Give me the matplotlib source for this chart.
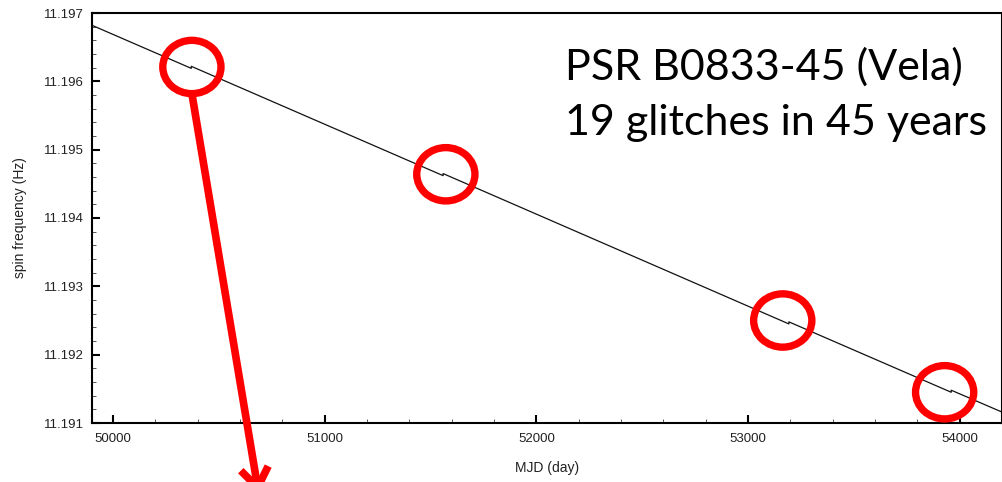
import matplotlib
matplotlib.use("Agg")
import matplotlib.pyplot as plt
from matplotlib.patches import Ellipse
from matplotlib.ticker import MultipleLocator, FormatStrFormatter

# Vela spin frequency vs. MJD, with small glitch steps
mjd = [49900, 50369, 50369, 51559, 51559, 53193, 53193, 53960, 53960, 54200]
freq = [11.19682, 11.19619, 11.19622, 11.19462, 11.19465,
        11.19245, 11.19248, 11.19145, 11.19148, 11.19116]

# highlighted glitches
circle_mjd = [50372, 51572, 53164, 53929]
circle_freq = [11.19621, 11.19464, 11.19250, 11.19145]

x_ticks = [50000, 51000, 52000, 53000, 54000]
y_ticks = [11.191, 11.192, 11.193, 11.194, 11.195, 11.196, 11.197]

title_lines = ["PSR B0833-45 (Vela)", "19 glitches in 45 years"]

plt.rcParams['font.family'] = ['Liberation Sans', 'DejaVu Sans']

fig = plt.figure(figsize=(10.03, 4.82), dpi=100)
ax = fig.add_axes([92 / 1003, 1 - 423 / 482, 910 / 1003, 410 / 482])

ax.plot(mjd, freq, color='#111111', lw=0.9)

ax.set_xlim(49900, 54200)
ax.set_ylim(11.191, 11.197)
ax.set_xticks(x_ticks)
ax.set_yticks(y_ticks)
ax.xaxis.set_minor_locator(MultipleLocator(200))
ax.yaxis.set_minor_locator(MultipleLocator(0.0002))
ax.yaxis.set_major_formatter(FormatStrFormatter('%.3f'))

ax.tick_params(which='both', direction='in', top=False, right=False,
               labelsize=9.5, labelcolor='#222222')
ax.tick_params(which='major', length=6, width=1.5)
ax.tick_params(which='minor', length=3, width=0.7, color='#555555')
ax.tick_params(axis='y', which='major', pad=6)
ax.tick_params(axis='x', which='major', pad=7)
for s in ax.spines.values():
    s.set_linewidth(1.5)

ax.set_xlabel('MJD (day)', fontsize=10, color='#222222', labelpad=12)
ax.set_ylabel('spin frequency (Hz)', fontsize=10, color='#222222', labelpad=12)

# red circles around the glitches
cw, ch = 275, 0.00078
for cx, cy in zip(circle_mjd, circle_freq):
    ax.add_patch(Ellipse((cx, cy), cw, ch, fill=False, edgecolor='#ff0000',
                         lw=5.3, clip_on=False, zorder=5))

# arrow leaving the first circle
ax.annotate('', xy=(0.258, -0.025), xycoords='figure fraction',
            xytext=(circle_mjd[0], circle_freq[0] - ch / 2), textcoords='data',
            arrowprops=dict(arrowstyle='->,head_length=0.7,head_width=0.5',
                            mutation_scale=20, color='#ff0000', lw=5.5,
                            shrinkA=0, shrinkB=0, capstyle='butt'),
            annotation_clip=False, zorder=6)

for line, yb in zip(title_lines, [0.8366, 0.7024]):
    ax.text(0.52, yb, line, transform=ax.transAxes, fontsize=31,
            family=['Lato', 'DejaVu Sans'], va='baseline', ha='left',
            color='black')

fig.savefig('out.png', dpi=100)
